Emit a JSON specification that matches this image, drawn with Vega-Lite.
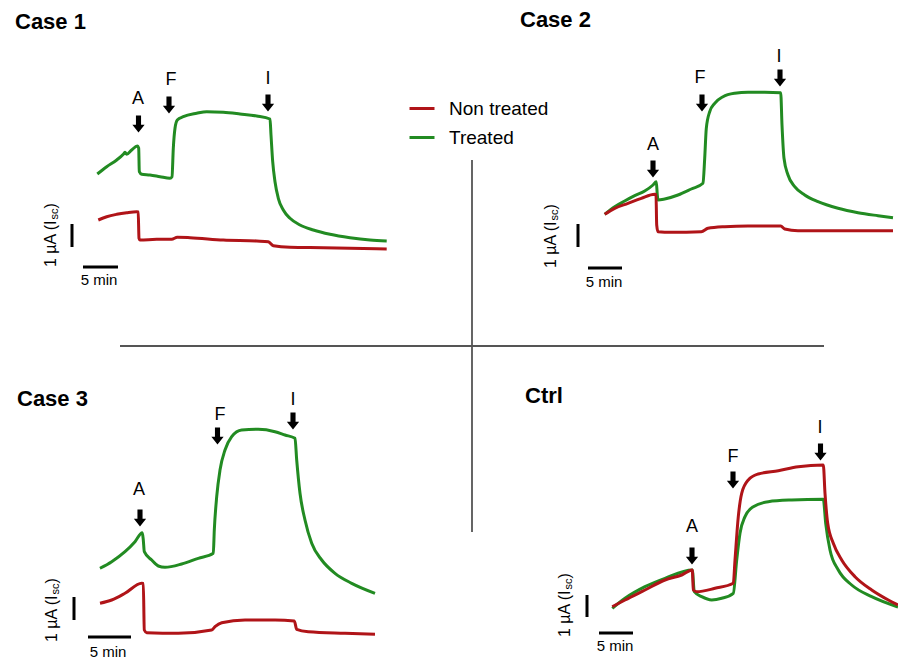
{
  "$schema": "https://vega.github.io/schema/vega-lite/v6.json",
  "width": 898,
  "height": 659,
  "padding": 0,
  "autosize": {"type": "none"},
  "background": "white",
  "view": {"stroke": null},
  "config": {"font": "Liberation Sans"},
  "datasets": {
    "dividers": [
      {"x": 120, "x2": 824, "y": 346, "y2": 346},
      {"x": 472, "x2": 472, "y": 160, "y2": 532}
    ],
    "bars": [
      {"panel": "Case 1", "x": 72, "x2": 72, "y": 224, "y2": 247},
      {"panel": "Case 1", "x": 83, "x2": 118, "y": 267, "y2": 267},
      {"panel": "Case 2", "x": 578, "x2": 578, "y": 224, "y2": 247},
      {"panel": "Case 2", "x": 588, "x2": 622, "y": 268, "y2": 268},
      {"panel": "Case 3", "x": 74, "x2": 74, "y": 597, "y2": 620},
      {"panel": "Case 3", "x": 88, "x2": 131, "y": 637, "y2": 637},
      {"panel": "Ctrl", "x": 587, "x2": 587, "y": 595, "y2": 617},
      {"panel": "Ctrl", "x": 599, "x2": 633, "y": 633, "y2": 633}
    ],
    "arrows": [
      {"panel": "Case 1", "event": "A", "x": 138.5, "y": 124},
      {"panel": "Case 1", "event": "F", "x": 169, "y": 105},
      {"panel": "Case 1", "event": "I", "x": 268, "y": 103},
      {"panel": "Case 2", "event": "A", "x": 653, "y": 169},
      {"panel": "Case 2", "event": "F", "x": 702, "y": 103},
      {"panel": "Case 2", "event": "I", "x": 780, "y": 78},
      {"panel": "Case 3", "event": "A", "x": 140, "y": 518},
      {"panel": "Case 3", "event": "F", "x": 217.5, "y": 436},
      {"panel": "Case 3", "event": "I", "x": 293, "y": 421},
      {"panel": "Ctrl", "event": "A", "x": 692, "y": 556},
      {"panel": "Ctrl", "event": "F", "x": 733, "y": 480},
      {"panel": "Ctrl", "event": "I", "x": 820.5, "y": 452}
    ],
    "texts": [
      {"role": "title", "text": "Case 1", "x": 15, "y": 29},
      {"role": "title", "text": "Case 2", "x": 520, "y": 27},
      {"role": "title", "text": "Case 3", "x": 17, "y": 406},
      {"role": "title", "text": "Ctrl", "x": 525, "y": 403},
      {"role": "event", "text": "A", "x": 138, "y": 99},
      {"role": "event", "text": "F", "x": 171, "y": 80},
      {"role": "event", "text": "I", "x": 268, "y": 79},
      {"role": "event", "text": "A", "x": 653, "y": 145},
      {"role": "event", "text": "F", "x": 700, "y": 78},
      {"role": "event", "text": "I", "x": 779, "y": 57},
      {"role": "event", "text": "A", "x": 139, "y": 490},
      {"role": "event", "text": "F", "x": 220, "y": 415},
      {"role": "event", "text": "I", "x": 293, "y": 400},
      {"role": "event", "text": "A", "x": 692, "y": 527},
      {"role": "event", "text": "F", "x": 733, "y": 457},
      {"role": "event", "text": "I", "x": 820, "y": 428},
      {"role": "time", "text": "5 min", "x": 99, "y": 280},
      {"role": "time", "text": "5 min", "x": 604, "y": 282},
      {"role": "time", "text": "5 min", "x": 108, "y": 652},
      {"role": "time", "text": "5 min", "x": 615, "y": 646},
      {"role": "ymain", "text": "1 µA (I", "x": 51, "y": 267},
      {"role": "ymain", "text": "1 µA (I", "x": 551, "y": 268},
      {"role": "ymain", "text": "1 µA (I", "x": 52, "y": 642},
      {"role": "ymain", "text": "1 µA (I", "x": 565, "y": 637},
      {"role": "ysub", "text": "sc", "x": 55, "y": 219.5},
      {"role": "ysub", "text": "sc", "x": 555, "y": 220.5},
      {"role": "ysub", "text": "sc", "x": 56, "y": 594.5},
      {"role": "ysub", "text": "sc", "x": 569, "y": 589.5},
      {"role": "yclose", "text": ")", "x": 51, "y": 208.5},
      {"role": "yclose", "text": ")", "x": 551, "y": 209.5},
      {"role": "yclose", "text": ")", "x": 52, "y": 583.5},
      {"role": "yclose", "text": ")", "x": 565, "y": 578.5}
    ],
    "traces": [
      {"panel": "Case 1", "series": "Treated", "x": 97.3, "y": 174},
      {"panel": "Case 1", "series": "Treated", "x": 106.7, "y": 166.7},
      {"panel": "Case 1", "series": "Treated", "x": 116.7, "y": 160},
      {"panel": "Case 1", "series": "Treated", "x": 123.3, "y": 154.3},
      {"panel": "Case 1", "series": "Treated", "x": 125, "y": 152.3},
      {"panel": "Case 1", "series": "Treated", "x": 126.7, "y": 154.3},
      {"panel": "Case 1", "series": "Treated", "x": 131.7, "y": 150},
      {"panel": "Case 1", "series": "Treated", "x": 137.3, "y": 146},
      {"panel": "Case 1", "series": "Treated", "x": 138.7, "y": 148.3},
      {"panel": "Case 1", "series": "Treated", "x": 139.3, "y": 171.7},
      {"panel": "Case 1", "series": "Treated", "x": 141.7, "y": 174.3},
      {"panel": "Case 1", "series": "Treated", "x": 150, "y": 175},
      {"panel": "Case 1", "series": "Treated", "x": 160, "y": 176.7},
      {"panel": "Case 1", "series": "Treated", "x": 170, "y": 178.3},
      {"panel": "Case 1", "series": "Treated", "x": 172, "y": 176.7},
      {"panel": "Case 1", "series": "Treated", "x": 173.3, "y": 148.3},
      {"panel": "Case 1", "series": "Treated", "x": 175, "y": 128.3},
      {"panel": "Case 1", "series": "Treated", "x": 177.3, "y": 120},
      {"panel": "Case 1", "series": "Treated", "x": 183.3, "y": 116.7},
      {"panel": "Case 1", "series": "Treated", "x": 196.7, "y": 113.3},
      {"panel": "Case 1", "series": "Treated", "x": 206.7, "y": 111.7},
      {"panel": "Case 1", "series": "Treated", "x": 223.3, "y": 112.3},
      {"panel": "Case 1", "series": "Treated", "x": 240, "y": 114},
      {"panel": "Case 1", "series": "Treated", "x": 256.7, "y": 116},
      {"panel": "Case 1", "series": "Treated", "x": 270, "y": 119},
      {"panel": "Case 1", "series": "Treated", "x": 271, "y": 135},
      {"panel": "Case 1", "series": "Treated", "x": 272.7, "y": 161.7},
      {"panel": "Case 1", "series": "Treated", "x": 275, "y": 181.7},
      {"panel": "Case 1", "series": "Treated", "x": 278.3, "y": 198.3},
      {"panel": "Case 1", "series": "Treated", "x": 283.3, "y": 210},
      {"panel": "Case 1", "series": "Treated", "x": 290, "y": 218.3},
      {"panel": "Case 1", "series": "Treated", "x": 300, "y": 225},
      {"panel": "Case 1", "series": "Treated", "x": 313.3, "y": 230},
      {"panel": "Case 1", "series": "Treated", "x": 330, "y": 234.3},
      {"panel": "Case 1", "series": "Treated", "x": 350, "y": 237.7},
      {"panel": "Case 1", "series": "Treated", "x": 370, "y": 240},
      {"panel": "Case 1", "series": "Treated", "x": 386.7, "y": 241},
      {"panel": "Case 2", "series": "Treated", "x": 604.7, "y": 214.3},
      {"panel": "Case 2", "series": "Treated", "x": 614.7, "y": 206.7},
      {"panel": "Case 2", "series": "Treated", "x": 624.7, "y": 201},
      {"panel": "Case 2", "series": "Treated", "x": 634.7, "y": 195.7},
      {"panel": "Case 2", "series": "Treated", "x": 644.7, "y": 191},
      {"panel": "Case 2", "series": "Treated", "x": 653, "y": 185},
      {"panel": "Case 2", "series": "Treated", "x": 656.3, "y": 181.7},
      {"panel": "Case 2", "series": "Treated", "x": 657.3, "y": 195},
      {"panel": "Case 2", "series": "Treated", "x": 658, "y": 200},
      {"panel": "Case 2", "series": "Treated", "x": 664.7, "y": 199},
      {"panel": "Case 2", "series": "Treated", "x": 678, "y": 195},
      {"panel": "Case 2", "series": "Treated", "x": 691.3, "y": 189},
      {"panel": "Case 2", "series": "Treated", "x": 703, "y": 183.3},
      {"panel": "Case 2", "series": "Treated", "x": 704.7, "y": 158.3},
      {"panel": "Case 2", "series": "Treated", "x": 706.3, "y": 128.3},
      {"panel": "Case 2", "series": "Treated", "x": 709.7, "y": 111.7},
      {"panel": "Case 2", "series": "Treated", "x": 714.7, "y": 103.3},
      {"panel": "Case 2", "series": "Treated", "x": 723, "y": 96.7},
      {"panel": "Case 2", "series": "Treated", "x": 734.7, "y": 93.3},
      {"panel": "Case 2", "series": "Treated", "x": 748, "y": 92.3},
      {"panel": "Case 2", "series": "Treated", "x": 764.7, "y": 92.3},
      {"panel": "Case 2", "series": "Treated", "x": 780.7, "y": 92.7},
      {"panel": "Case 2", "series": "Treated", "x": 782, "y": 125},
      {"panel": "Case 2", "series": "Treated", "x": 784, "y": 158.3},
      {"panel": "Case 2", "series": "Treated", "x": 788, "y": 175},
      {"panel": "Case 2", "series": "Treated", "x": 794.7, "y": 186.7},
      {"panel": "Case 2", "series": "Treated", "x": 804.7, "y": 195},
      {"panel": "Case 2", "series": "Treated", "x": 818, "y": 201.7},
      {"panel": "Case 2", "series": "Treated", "x": 838, "y": 208.3},
      {"panel": "Case 2", "series": "Treated", "x": 858, "y": 212.7},
      {"panel": "Case 2", "series": "Treated", "x": 878, "y": 215.7},
      {"panel": "Case 2", "series": "Treated", "x": 893, "y": 217.7},
      {"panel": "Case 3", "series": "Treated", "x": 100, "y": 568.3},
      {"panel": "Case 3", "series": "Treated", "x": 111.7, "y": 561.7},
      {"panel": "Case 3", "series": "Treated", "x": 125, "y": 551.7},
      {"panel": "Case 3", "series": "Treated", "x": 135, "y": 541.7},
      {"panel": "Case 3", "series": "Treated", "x": 142.3, "y": 532.7},
      {"panel": "Case 3", "series": "Treated", "x": 143.3, "y": 540},
      {"panel": "Case 3", "series": "Treated", "x": 144.3, "y": 551.7},
      {"panel": "Case 3", "series": "Treated", "x": 151.7, "y": 560},
      {"panel": "Case 3", "series": "Treated", "x": 158.3, "y": 566},
      {"panel": "Case 3", "series": "Treated", "x": 165, "y": 567.3},
      {"panel": "Case 3", "series": "Treated", "x": 181.7, "y": 564},
      {"panel": "Case 3", "series": "Treated", "x": 198.3, "y": 558.3},
      {"panel": "Case 3", "series": "Treated", "x": 213.3, "y": 553.3},
      {"panel": "Case 3", "series": "Treated", "x": 214.3, "y": 530},
      {"panel": "Case 3", "series": "Treated", "x": 216.7, "y": 496.7},
      {"panel": "Case 3", "series": "Treated", "x": 220, "y": 470},
      {"panel": "Case 3", "series": "Treated", "x": 225, "y": 450},
      {"panel": "Case 3", "series": "Treated", "x": 231.7, "y": 436.7},
      {"panel": "Case 3", "series": "Treated", "x": 241.7, "y": 430},
      {"panel": "Case 3", "series": "Treated", "x": 258.3, "y": 429.3},
      {"panel": "Case 3", "series": "Treated", "x": 275, "y": 431.7},
      {"panel": "Case 3", "series": "Treated", "x": 285, "y": 435},
      {"panel": "Case 3", "series": "Treated", "x": 295, "y": 438.3},
      {"panel": "Case 3", "series": "Treated", "x": 296.7, "y": 460},
      {"panel": "Case 3", "series": "Treated", "x": 300, "y": 493.3},
      {"panel": "Case 3", "series": "Treated", "x": 305, "y": 520},
      {"panel": "Case 3", "series": "Treated", "x": 311.7, "y": 543.3},
      {"panel": "Case 3", "series": "Treated", "x": 321.7, "y": 560},
      {"panel": "Case 3", "series": "Treated", "x": 335, "y": 573.3},
      {"panel": "Case 3", "series": "Treated", "x": 351.7, "y": 583.3},
      {"panel": "Case 3", "series": "Treated", "x": 375, "y": 593.3},
      {"panel": "Ctrl", "series": "Treated", "x": 612.3, "y": 608.3},
      {"panel": "Ctrl", "series": "Treated", "x": 625, "y": 598.3},
      {"panel": "Ctrl", "series": "Treated", "x": 645, "y": 586.7},
      {"panel": "Ctrl", "series": "Treated", "x": 665, "y": 578.3},
      {"panel": "Ctrl", "series": "Treated", "x": 692.3, "y": 570},
      {"panel": "Ctrl", "series": "Treated", "x": 694.3, "y": 591.7},
      {"panel": "Ctrl", "series": "Treated", "x": 701.7, "y": 596.7},
      {"panel": "Ctrl", "series": "Treated", "x": 711.7, "y": 600},
      {"panel": "Ctrl", "series": "Treated", "x": 721.7, "y": 598.3},
      {"panel": "Ctrl", "series": "Treated", "x": 733.3, "y": 593.3},
      {"panel": "Ctrl", "series": "Treated", "x": 736.7, "y": 560},
      {"panel": "Ctrl", "series": "Treated", "x": 740, "y": 533.3},
      {"panel": "Ctrl", "series": "Treated", "x": 745, "y": 516.7},
      {"panel": "Ctrl", "series": "Treated", "x": 753.3, "y": 506.7},
      {"panel": "Ctrl", "series": "Treated", "x": 768.3, "y": 501.7},
      {"panel": "Ctrl", "series": "Treated", "x": 791.7, "y": 500},
      {"panel": "Ctrl", "series": "Treated", "x": 823.3, "y": 499.3},
      {"panel": "Ctrl", "series": "Treated", "x": 825.7, "y": 523.3},
      {"panel": "Ctrl", "series": "Treated", "x": 830, "y": 550},
      {"panel": "Ctrl", "series": "Treated", "x": 838.3, "y": 570},
      {"panel": "Ctrl", "series": "Treated", "x": 851.7, "y": 585},
      {"panel": "Ctrl", "series": "Treated", "x": 871.7, "y": 596.7},
      {"panel": "Ctrl", "series": "Treated", "x": 898, "y": 607},
      {"panel": "Case 1", "series": "Non treated", "x": 98.3, "y": 220},
      {"panel": "Case 1", "series": "Non treated", "x": 106.7, "y": 216.7},
      {"panel": "Case 1", "series": "Non treated", "x": 116.7, "y": 214.3},
      {"panel": "Case 1", "series": "Non treated", "x": 126.7, "y": 212.7},
      {"panel": "Case 1", "series": "Non treated", "x": 136.7, "y": 211.7},
      {"panel": "Case 1", "series": "Non treated", "x": 138.2, "y": 212},
      {"panel": "Case 1", "series": "Non treated", "x": 139, "y": 238.3},
      {"panel": "Case 1", "series": "Non treated", "x": 140, "y": 240},
      {"panel": "Case 1", "series": "Non treated", "x": 156.7, "y": 239.3},
      {"panel": "Case 1", "series": "Non treated", "x": 171.7, "y": 239.3},
      {"panel": "Case 1", "series": "Non treated", "x": 177.3, "y": 237.3},
      {"panel": "Case 1", "series": "Non treated", "x": 190, "y": 237.7},
      {"panel": "Case 1", "series": "Non treated", "x": 223.3, "y": 240},
      {"panel": "Case 1", "series": "Non treated", "x": 256.7, "y": 241},
      {"panel": "Case 1", "series": "Non treated", "x": 268.3, "y": 241.7},
      {"panel": "Case 1", "series": "Non treated", "x": 273.3, "y": 245.7},
      {"panel": "Case 1", "series": "Non treated", "x": 290, "y": 247.3},
      {"panel": "Case 1", "series": "Non treated", "x": 323.3, "y": 247.7},
      {"panel": "Case 1", "series": "Non treated", "x": 386.7, "y": 249},
      {"panel": "Case 2", "series": "Non treated", "x": 604.7, "y": 214.3},
      {"panel": "Case 2", "series": "Non treated", "x": 614.7, "y": 208.3},
      {"panel": "Case 2", "series": "Non treated", "x": 628, "y": 203.3},
      {"panel": "Case 2", "series": "Non treated", "x": 641.3, "y": 198.3},
      {"panel": "Case 2", "series": "Non treated", "x": 654.7, "y": 194.3},
      {"panel": "Case 2", "series": "Non treated", "x": 656, "y": 194.5},
      {"panel": "Case 2", "series": "Non treated", "x": 656.7, "y": 225},
      {"panel": "Case 2", "series": "Non treated", "x": 658, "y": 231.7},
      {"panel": "Case 2", "series": "Non treated", "x": 671.3, "y": 232.3},
      {"panel": "Case 2", "series": "Non treated", "x": 701.3, "y": 231.7},
      {"panel": "Case 2", "series": "Non treated", "x": 708, "y": 228.3},
      {"panel": "Case 2", "series": "Non treated", "x": 724.7, "y": 226.7},
      {"panel": "Case 2", "series": "Non treated", "x": 748, "y": 226},
      {"panel": "Case 2", "series": "Non treated", "x": 780.7, "y": 226},
      {"panel": "Case 2", "series": "Non treated", "x": 784.7, "y": 229},
      {"panel": "Case 2", "series": "Non treated", "x": 798, "y": 230.7},
      {"panel": "Case 2", "series": "Non treated", "x": 893, "y": 230.7},
      {"panel": "Case 3", "series": "Non treated", "x": 100, "y": 603.3},
      {"panel": "Case 3", "series": "Non treated", "x": 111.7, "y": 600},
      {"panel": "Case 3", "series": "Non treated", "x": 125, "y": 593.3},
      {"panel": "Case 3", "series": "Non treated", "x": 141.7, "y": 583.3},
      {"panel": "Case 3", "series": "Non treated", "x": 143.3, "y": 583.5},
      {"panel": "Case 3", "series": "Non treated", "x": 144.3, "y": 630},
      {"panel": "Case 3", "series": "Non treated", "x": 146.7, "y": 632.7},
      {"panel": "Case 3", "series": "Non treated", "x": 178.3, "y": 633.3},
      {"panel": "Case 3", "series": "Non treated", "x": 211.7, "y": 630},
      {"panel": "Case 3", "series": "Non treated", "x": 215, "y": 626.7},
      {"panel": "Case 3", "series": "Non treated", "x": 221.7, "y": 622.7},
      {"panel": "Case 3", "series": "Non treated", "x": 245, "y": 620},
      {"panel": "Case 3", "series": "Non treated", "x": 275, "y": 620},
      {"panel": "Case 3", "series": "Non treated", "x": 294.3, "y": 621},
      {"panel": "Case 3", "series": "Non treated", "x": 296.7, "y": 629.3},
      {"panel": "Case 3", "series": "Non treated", "x": 308.3, "y": 631.7},
      {"panel": "Case 3", "series": "Non treated", "x": 345, "y": 633.3},
      {"panel": "Case 3", "series": "Non treated", "x": 375, "y": 634.3},
      {"panel": "Ctrl", "series": "Non treated", "x": 612.3, "y": 606.7},
      {"panel": "Ctrl", "series": "Non treated", "x": 625, "y": 600},
      {"panel": "Ctrl", "series": "Non treated", "x": 645, "y": 590},
      {"panel": "Ctrl", "series": "Non treated", "x": 665, "y": 580},
      {"panel": "Ctrl", "series": "Non treated", "x": 681.7, "y": 575},
      {"panel": "Ctrl", "series": "Non treated", "x": 692.3, "y": 570},
      {"panel": "Ctrl", "series": "Non treated", "x": 693.3, "y": 590},
      {"panel": "Ctrl", "series": "Non treated", "x": 696.7, "y": 591.7},
      {"panel": "Ctrl", "series": "Non treated", "x": 715, "y": 588.3},
      {"panel": "Ctrl", "series": "Non treated", "x": 733.3, "y": 583.3},
      {"panel": "Ctrl", "series": "Non treated", "x": 735, "y": 560},
      {"panel": "Ctrl", "series": "Non treated", "x": 738.3, "y": 516.7},
      {"panel": "Ctrl", "series": "Non treated", "x": 741.7, "y": 493.3},
      {"panel": "Ctrl", "series": "Non treated", "x": 748.3, "y": 480},
      {"panel": "Ctrl", "series": "Non treated", "x": 758.3, "y": 474},
      {"panel": "Ctrl", "series": "Non treated", "x": 778.3, "y": 470.7},
      {"panel": "Ctrl", "series": "Non treated", "x": 798.3, "y": 466.7},
      {"panel": "Ctrl", "series": "Non treated", "x": 823.3, "y": 465},
      {"panel": "Ctrl", "series": "Non treated", "x": 825, "y": 493.3},
      {"panel": "Ctrl", "series": "Non treated", "x": 827.7, "y": 523.3},
      {"panel": "Ctrl", "series": "Non treated", "x": 833.3, "y": 543.3},
      {"panel": "Ctrl", "series": "Non treated", "x": 841.7, "y": 560},
      {"panel": "Ctrl", "series": "Non treated", "x": 855, "y": 576.7},
      {"panel": "Ctrl", "series": "Non treated", "x": 871.7, "y": 590},
      {"panel": "Ctrl", "series": "Non treated", "x": 888.3, "y": 600},
      {"panel": "Ctrl", "series": "Non treated", "x": 898, "y": 605}
    ]
  },
  "layer": [
    {
      "data": {"name": "dividers"},
      "mark": {"type": "rule", "color": "#555555", "strokeWidth": 1.8},
      "encoding": {
        "x": {"field": "x", "type": "quantitative", "scale": {"domain": [0, 898], "nice": false, "zero": false}, "axis": null},
        "x2": {"field": "x2"},
        "y": {"field": "y", "type": "quantitative", "scale": {"domain": [0, 659], "reverse": true, "nice": false, "zero": false}, "axis": null},
        "y2": {"field": "y2"}
      }
    },
    {
      "data": {"name": "traces"},
      "mark": {"type": "line", "strokeWidth": 3, "interpolate": "monotone"},
      "encoding": {
        "x": {"field": "x", "type": "quantitative", "scale": {"domain": [0, 898], "nice": false, "zero": false}, "axis": null},
        "y": {"field": "y", "type": "quantitative", "scale": {"domain": [0, 659], "reverse": true, "nice": false, "zero": false}, "axis": null},
        "color": {
          "field": "series",
          "type": "nominal",
          "scale": {"domain": ["Non treated", "Treated"], "range": ["#b01418", "#228b22"]},
          "legend": {
            "orient": "none",
            "legendX": 408,
            "legendY": 94.5,
            "title": null,
            "padding": 0,
            "symbolType": "stroke",
            "symbolStrokeWidth": 3,
            "symbolSize": 625,
            "labelFontSize": 19,
            "labelFont": "Liberation Sans",
            "labelColor": "black",
            "labelOffset": 13,
            "rowPadding": 5
          }
        },
        "detail": {"field": "panel"}
      }
    },
    {
      "data": {"name": "bars"},
      "mark": {"type": "rule", "color": "black", "strokeWidth": 3},
      "encoding": {
        "x": {"field": "x", "type": "quantitative"},
        "x2": {"field": "x2"},
        "y": {"field": "y", "type": "quantitative"},
        "y2": {"field": "y2"}
      }
    },
    {
      "data": {"name": "arrows"},
      "mark": {
        "type": "point",
        "shape": "M-0.3,-1L0.3,-1L0.3,0.1L0.72,0.1L0,1L-0.72,0.1L-0.3,0.1Z",
        "filled": true,
        "color": "black",
        "opacity": 1,
        "size": 290,
        "strokeWidth": 0
      },
      "encoding": {
        "x": {"field": "x", "type": "quantitative"},
        "y": {"field": "y", "type": "quantitative"}
      }
    },
    {
      "data": {"name": "texts"},
      "transform": [{"filter": "datum.role === 'title'"}],
      "mark": {"type": "text", "fontSize": 22, "fontWeight": "bold", "align": "left", "baseline": "alphabetic", "color": "black"},
      "encoding": {
        "x": {"field": "x", "type": "quantitative"},
        "y": {"field": "y", "type": "quantitative"},
        "text": {"field": "text"}
      }
    },
    {
      "data": {"name": "texts"},
      "transform": [{"filter": "datum.role === 'event'"}],
      "mark": {"type": "text", "fontSize": 18, "align": "center", "baseline": "middle", "color": "black"},
      "encoding": {
        "x": {"field": "x", "type": "quantitative"},
        "y": {"field": "y", "type": "quantitative"},
        "text": {"field": "text"}
      }
    },
    {
      "data": {"name": "texts"},
      "transform": [{"filter": "datum.role === 'time'"}],
      "mark": {"type": "text", "fontSize": 15, "align": "center", "baseline": "middle", "color": "black"},
      "encoding": {
        "x": {"field": "x", "type": "quantitative"},
        "y": {"field": "y", "type": "quantitative"},
        "text": {"field": "text"}
      }
    },
    {
      "data": {"name": "texts"},
      "transform": [{"filter": "datum.role === 'ymain' || datum.role === 'yclose'"}],
      "mark": {"type": "text", "fontSize": 16, "angle": 270, "align": "left", "baseline": "middle", "color": "black"},
      "encoding": {
        "x": {"field": "x", "type": "quantitative"},
        "y": {"field": "y", "type": "quantitative"},
        "text": {"field": "text"}
      }
    },
    {
      "data": {"name": "texts"},
      "transform": [{"filter": "datum.role === 'ysub'"}],
      "mark": {"type": "text", "fontSize": 11, "angle": 270, "align": "left", "baseline": "middle", "color": "black"},
      "encoding": {
        "x": {"field": "x", "type": "quantitative"},
        "y": {"field": "y", "type": "quantitative"},
        "text": {"field": "text"}
      }
    }
  ]
}
